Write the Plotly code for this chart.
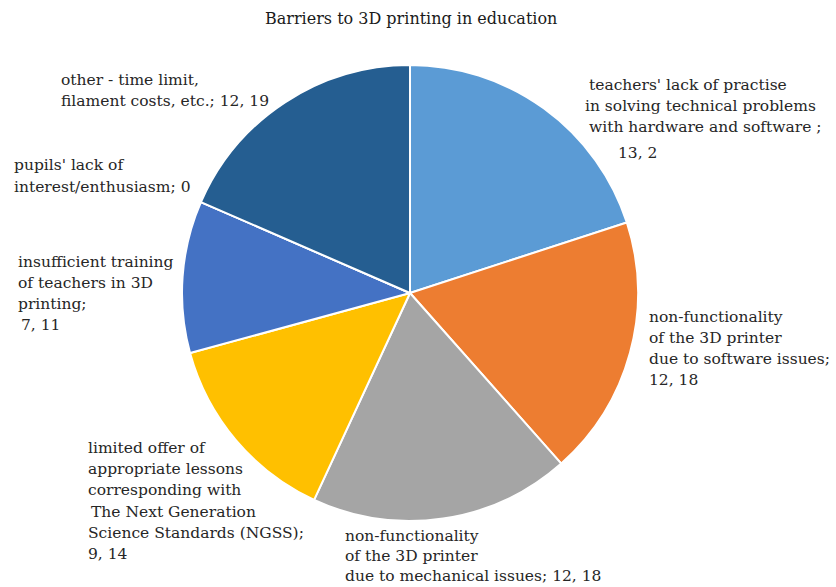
import plotly.graph_objects as go

W, H = 836, 587

categories = [
    "teachers' lack of practise in solving technical problems with hardware and software",
    "non-functionality of the 3D printer due to software issues",
    "non-functionality of the 3D printer due to mechanical issues",
    "limited offer of appropriate lessons corresponding with The Next Generation Science Standards (NGSS)",
    "insufficient training of teachers in 3D printing",
    "pupils' lack of interest/enthusiasm",
    "other - time limit, filament costs, etc.",
]
values = [13.2, 12.18, 12.18, 9.14, 7.11, 0, 12.19]
value_labels = ["13, 2", "12, 18", "12, 18", "9, 14", "7, 11", "0", "12, 19"]
colors = ["#5B9BD5", "#ED7D31", "#A5A5A5", "#FFC000", "#4472C4", "#70AD47", "#255E91"]

# label blocks: (left x px, first line centre y px, line spacing px, lines)
label_blocks = [
    (587, 85, 21, ["teachers' lack of practise"]),
    (583, 106, 21, ["in solving technical problems"]),
    (587, 127, 21, ["with hardware and software ;"]),
    (616, 153, 21, [value_labels[0]]),
    (647, 317, 21, ["non-functionality", "of the 3D printer", "due to software issues;", value_labels[1]]),
    (343, 536, 20, ["non-functionality", "of the 3D printer", "due to mechanical issues; " + value_labels[2]]),
    (86, 448, 21, ["limited offer of", "appropriate lessons", "corresponding with"]),
    (89, 512, 21, ["The Next Generation"]),
    (86, 533, 21, ["Science Standards (NGSS);", value_labels[3]]),
    (16, 262, 21, ["insufficient training", "of teachers in 3D", "printing;"]),
    (19, 325, 21, [value_labels[4]]),
    (12, 165, 22, ["pupils' lack of", "interest/enthusiasm; " + value_labels[5]]),
    (59, 80, 21, ["other - time limit,", "filament costs, etc.; " + value_labels[6]]),
]

cx, cy, r = 410, 293, 228

fig = go.Figure(go.Pie(
    labels=categories,
    values=values,
    sort=False,
    direction="clockwise",
    rotation=0,
    marker=dict(colors=colors, line=dict(color="white", width=2)),
    textinfo="none",
    hoverinfo="label+value",
    showlegend=False,
    domain=dict(x=[(cx - r) / W, (cx + r) / W], y=[1 - (cy + r) / H, 1 - (cy - r) / H]),
))

font = dict(family="DejaVu Serif", size=15.5, color="#262626")
anns = []
for x0, y0, step, lines in label_blocks:
    for i, t in enumerate(lines):
        anns.append(dict(
            x=x0 / W, y=1 - (y0 + i * step) / H, xref="paper", yref="paper",
            xanchor="left", yanchor="middle", text=t, showarrow=False, font=font,
        ))
anns.append(dict(
    x=411 / W, y=1 - 18 / H, xref="paper", yref="paper", xanchor="center", yanchor="middle",
    text="Barriers to 3D printing in education", showarrow=False,
    font=dict(family="DejaVu Serif", size=16, color="#1a1a1a"),
))

fig.update_layout(
    width=W, height=H,
    margin=dict(l=0, r=0, t=0, b=0),
    paper_bgcolor="white", plot_bgcolor="white",
    annotations=anns,
)
fig.write_html("out.html")
